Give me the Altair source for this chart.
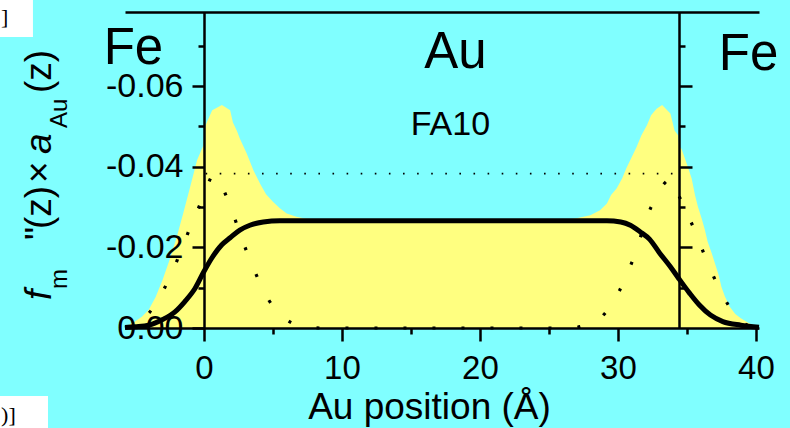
import altair as alt
import pandas as pd

FONT = "Liberation Sans"
CYAN = "#80ffff"
YELLOW = "#ffff80"

# ---- yellow filled profile (value vs Au position) ----
area_x = [-5.72, -5.5, -5.0, -4.5, -4.0, -3.5, -3.0, -2.5, -2.0, -1.5,
          -1.0, -0.5, -0.05, 0.05, 0.2, 0.6, 1.3, 1.9, 2.1, 2.4,
          2.6, 3.1, 3.6, 4.1, 4.5, 5.0, 5.5, 6.0, 6.7, 7.4,
          8.5, 26.5, 27.0, 28.0, 28.7, 29.2, 29.5, 29.9, 30.3, 30.6,
          31.0, 31.35, 31.7, 32.1, 32.4, 32.8, 33.2, 33.8, 34.1, 34.35,
          34.45, 34.6, 34.86, 35.1, 35.34, 35.58, 35.8, 36.06, 36.3, 36.5,
          36.8, 37.03, 37.3, 37.5, 37.75, 38.1, 38.5, 38.9, 39.5, 40.22]
area_v = [0.0, -0.0007, -0.0016, -0.0028, -0.0045, -0.0077, -0.0119, -0.0168, -0.0222, -0.0285,
          -0.0350, -0.0416, -0.0452, -0.0495, -0.0510, -0.0540, -0.0553, -0.0540, -0.0510, -0.0488,
          -0.0470, -0.0433, -0.0390, -0.0356, -0.0332, -0.0313, -0.0297, -0.0284, -0.0276, -0.0271,
          -0.0270, -0.0270, -0.0272, -0.0280, -0.0292, -0.0309, -0.0330, -0.0346, -0.0371, -0.0396,
          -0.0424, -0.0449, -0.0478, -0.0503, -0.0528, -0.0544, -0.0553, -0.0532, -0.0490, -0.0478,
          -0.0450, -0.0445, -0.0420, -0.0396, -0.0371, -0.0330, -0.0300, -0.0272, -0.0243, -0.0214,
          -0.0185, -0.0160, -0.0131, -0.0102, -0.0078, -0.0053, -0.0035, -0.0024, -0.0012, 0.0]

# ---- solid black profile ----
line_x = [-5.72, -5.0, -4.0, -3.0, -2.1, -1.4, -0.65, 0.0, 0.56, 1.28,
          1.9, 2.6, 3.33, 4.3, 5.5, 29.2, 30.2, 30.9, 31.6, 32.3,
          33.0, 33.8, 34.4, 35.2, 35.9, 36.7, 37.6, 38.9, 40.22]
line_v = [-0.0001, -0.0003, -0.0007, -0.0021, -0.0040, -0.0065, -0.0098, -0.0140, -0.0173, -0.0206,
          -0.0224, -0.0243, -0.0255, -0.0263, -0.0266, -0.0266, -0.0263, -0.0255, -0.0239, -0.0220,
          -0.0187, -0.0152, -0.0123, -0.0086, -0.0057, -0.0032, -0.0016, -0.0007, -0.0002]

# ---- dotted profile ----
dot_x = [-5.72, -4.8, -3.67, -2.54, -1.69, -0.89, 0.0, 0.35, 0.65, 1.0,
         1.33, 2.12, 2.85, 3.65, 4.61, 5.5, 6.35, 7.5, 8.4, 26.6,
         27.7, 28.7, 30.1, 31.0, 32.4, 33.65, 33.9, 34.2, 34.7, 35.6,
         36.4, 37.3, 38.55, 39.3, 40.22]
dot_v = [0.0, -0.0012, -0.0051, -0.0121, -0.0189, -0.0259, -0.0330, -0.0362, -0.0378, -0.0372,
         -0.0350, -0.0282, -0.0212, -0.0143, -0.0074, -0.0035, -0.0013, -0.0003, 0.0, 0.0,
         -0.0008, -0.0024, -0.0092, -0.0162, -0.0300, -0.0367, -0.0370, -0.0345, -0.0307, -0.0239,
         -0.0170, -0.0101, -0.0030, -0.0008, 0.0]

# ---- horizontal dotted reference level ----
ref_x0 = [0.12]
ref_x1 = [34.4]
ref_v = [-0.0383]

# ---- axis ticks ----
x_major = [0, 10, 20, 30, 40]
x_minor = [5, 15, 25, 35]
y_major = [0.0, -0.02, -0.04, -0.06]
y_major_right = [-0.02, -0.04, -0.06]
y_minor = [-0.01, -0.03, -0.05, -0.07]
X_DOMAIN = [-5.72, 40.22]
Y_DOMAIN = [-0.0784, 0.0]
Y_LEFT_OFFSET = -79
Y_RIGHT_OFFSET = -80

# ---- region labels ----
lab_text = ["Fe", "Au", "Fe"]
lab_x = [-5.11, 18.22, 39.46]
lab_y = [-0.0655, -0.0645, -0.0640]
sample_text = ["FA10"]
sample_x = [17.86]
sample_y = [-0.0479]

# ---- rotated y title pieces:  f_m''(z) x a_Au(z) ----
ital_text = ["f", "a"]
ital_x = [-11.09, -11.09]
ital_y = [-0.00695, -0.04318]
norm_text = ['"', "(z)", "\u00d7", "(z)"]
norm_x = [-11.09, -11.09, -11.09, -11.09]
norm_y = [-0.02184, -0.02457, -0.03598, -0.05831]
sub_text = ["m", "Au"]
sub_x = [-9.89, -9.89]
sub_y = [-0.00968, -0.04963]

# ---- cropped page fragments in the corners (white patches with bracket text) ----
patch_x0 = [-14.78, -14.78]
patch_x1 = [-12.39, -11.30]
patch_y0 = [-0.0814, 0.0169]
patch_y1 = [-0.0722, 0.0250]
frag_text = ["]", ")]"]
frag_x = [-14.70, -14.70]
frag_y = [-0.0754, 0.0233]

xs = alt.Scale(domain=X_DOMAIN, nice=False, zero=False)
ys = alt.Scale(domain=Y_DOMAIN, nice=False, zero=False, reverse=True)

df_area = pd.DataFrame({"x": area_x, "v": area_v})
df_line = pd.DataFrame({"x": line_x, "v": line_v})
df_dot = pd.DataFrame({"x": dot_x, "v": dot_v})
df_ref = pd.DataFrame({"x0": ref_x0, "x1": ref_x1, "v": ref_v})
df_patch = pd.DataFrame({"x0": patch_x0, "x1": patch_x1, "y0": patch_y0, "y1": patch_y1})

common_axis = dict(grid=False, zindex=1, domainColor="black", tickColor="black",
                   labelColor="black", labelFont=FONT, titleFont=FONT,
                   labelFlush=False, labelOverlap=False, tickWidth=2.5, domainWidth=2.5)

ax_x_major = alt.Axis(orient="bottom", values=x_major, tickSize=13, labelFontSize=33,
                      labelPadding=11, format="d", title="Au position (Å)",
                      titleFontSize=37, titleFontWeight="normal", titleX=304, titleY=90,
                      titleBaseline="alphabetic", titleAlign="center", titleColor="black",
                      **common_axis)
ax_x_minor = alt.Axis(orient="bottom", values=x_minor, tickSize=6, labels=False,
                      domain=False, title=None, **common_axis)
ax_x_top = alt.Axis(orient="top", ticks=False, labels=False, title=None, **common_axis)

ax_y_left = alt.Axis(orient="left", values=y_major, tickSize=12,
                     labelExpr="replace(format(datum.value, '.2f'), '\u2212', '-')",
                     labelFontSize=34, labelPadding=9, offset=Y_LEFT_OFFSET, title=None,
                     **common_axis)
ax_y_left_minor = alt.Axis(orient="left", values=y_minor, tickSize=6, labels=False,
                           domain=False, offset=Y_LEFT_OFFSET, title=None, **common_axis)
ax_y_right = alt.Axis(orient="right", values=y_major_right, tickSize=13, labels=False,
                      offset=Y_RIGHT_OFFSET, title=None, **common_axis)
ax_y_right_minor = alt.Axis(orient="right", values=y_minor, tickSize=6, labels=False,
                            domain=False, offset=Y_RIGHT_OFFSET, title=None, **common_axis)

area = alt.Chart(df_area).mark_area(color=YELLOW, interpolate="linear").encode(
    x=alt.X("x:Q", scale=xs, axis=ax_x_major),
    y=alt.Y("v:Q", scale=ys, axis=ax_y_left),
    y2=alt.datum(0),
)

ref = alt.Chart(df_ref).mark_rule(color="black", strokeWidth=1.6, strokeDash=[1.6, 12.5]).encode(
    x=alt.X("x0:Q", scale=xs, axis=ax_x_minor),
    x2="x1:Q",
    y=alt.Y("v:Q", scale=ys, axis=ax_y_left_minor),
)

dotted = alt.Chart(df_dot).mark_line(color="black", strokeWidth=3.2, strokeDash=[3, 26],
                                     strokeCap="butt", interpolate="monotone").encode(
    x=alt.X("x:Q", scale=xs, axis=ax_x_top),
    y=alt.Y("v:Q", scale=ys, axis=ax_y_right),
    order="x:Q",
)

solid = alt.Chart(df_line).mark_line(color="black", strokeWidth=5, interpolate="monotone").encode(
    x=alt.X("x:Q", scale=xs, axis=None),
    y=alt.Y("v:Q", scale=ys, axis=ax_y_right_minor),
    order="x:Q",
)

patches = alt.Chart(df_patch).mark_rect(color="white").encode(
    x=alt.X("x0:Q", scale=xs, axis=None),
    x2="x1:Q",
    y=alt.Y("y0:Q", scale=ys, axis=None),
    y2="y1:Q",
)

def text_layer(texts, xv, yv, font=FONT, **kw):
    df = pd.DataFrame({"t": texts, "x": xv, "y": yv})
    return alt.Chart(df).mark_text(font=font, color="black", **kw).encode(
        x=alt.X("x:Q", scale=xs, axis=None),
        y=alt.Y("y:Q", scale=ys, axis=None),
        text="t:N",
    )

labels = text_layer(lab_text, lab_x, lab_y, fontSize=51, align="center", baseline="alphabetic")
sample = text_layer(sample_text, sample_x, sample_y, fontSize=34, align="center", baseline="alphabetic")
t_ital = text_layer(ital_text, ital_x, ital_y, fontSize=37, fontStyle="italic", angle=270,
                    align="left", baseline="alphabetic")
t_norm = text_layer(norm_text, norm_x, norm_y, fontSize=37, angle=270,
                    align="left", baseline="alphabetic")
t_sub = text_layer(sub_text, sub_x, sub_y, fontSize=24, angle=270,
                   align="left", baseline="alphabetic")
frags = text_layer(frag_text, frag_x, frag_y, font="Liberation Serif", fontSize=22,
                   align="left", baseline="alphabetic")

chart = alt.layer(area, ref, dotted, solid, labels, sample, t_ital, t_norm, t_sub,
                  patches, frags).resolve_axis(
    x="independent", y="independent"
).properties(
    width=634, height=316,
    background=CYAN,
    padding={"left": 125, "top": 12, "right": 31, "bottom": 100},
    autosize=alt.AutoSizeParams(type="none"),
).configure_view(stroke=None)

chart.save("out.html", embed_options={"renderer": "svg", "actions": False})
